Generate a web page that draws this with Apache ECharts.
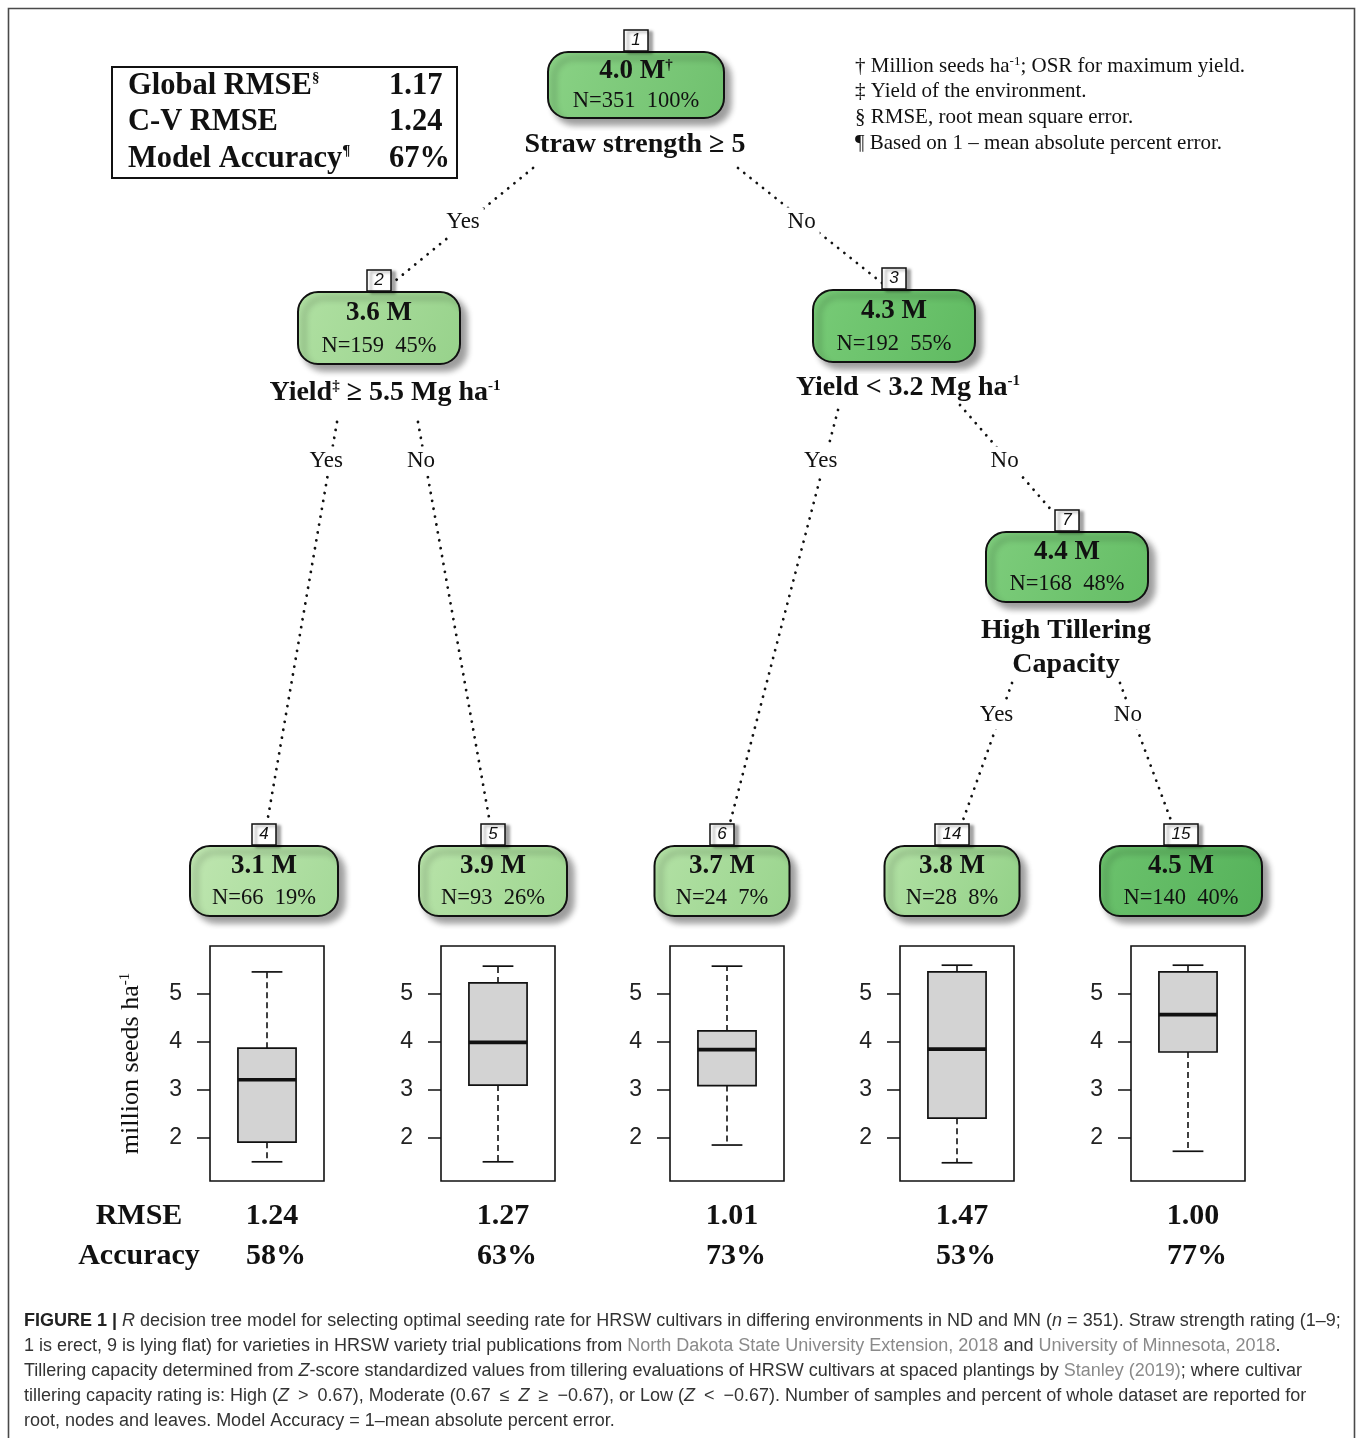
<!DOCTYPE html>
<html><head><meta charset="utf-8">
<script src="https://cdn.jsdelivr.net/npm/echarts@6/dist/echarts.min.js"></script>
<style>html,body{margin:0;padding:0;background:#fff}#c{width:1358px;height:1438px}</style>
</head><body><div id="c"></div>
<script>
// ---------------- DATA ----------------
const nodeIds   = ['1','2','3','7','4','5','6','14','15'];
const nodeMeans = ['4.0','3.6','4.3','4.4','3.1','3.9','3.7','3.8','4.5'];
const nodeN     = [351,159,192,168,66,93,24,28,140];
const nodePct   = [100,45,55,48,19,26,7,8,40];

const leafIds      = ['4','5','6','14','15'];
const whiskerLow   = [1.49,1.49,1.84,1.47,1.71];
const q1           = [1.90,3.09,3.08,2.40,3.78];
const median       = [3.20,3.98,3.83,3.84,4.56];
const q3           = [3.86,5.22,4.22,5.45,5.45];
const whiskerHigh  = [5.45,5.57,5.57,5.59,5.59];
const leafRMSE     = ['1.24','1.27','1.01','1.47','1.00'];
const leafAccuracy = ['58%','63%','73%','53%','77%'];
const yTicks       = [2,3,4,5];

const globalLabels = ['Global RMSE','C-V RMSE','Model Accuracy'];
const globalMarks  = ['§','','¶'];
const globalValues = ['1.17','1.24','67%'];

// ---------------- LAYOUT / STYLE ----------------
const SERIF = 'Liberation Serif';
const SANS = 'Liberation Sans';
const INK = '#111';
const NODE = {
  '1':  {cx:636,  top:52,  w:176, h:66},
  '2':  {cx:379,  top:292, w:162, h:72},
  '3':  {cx:894,  top:290, w:162, h:72},
  '7':  {cx:1067, top:532, w:162, h:70},
  '4':  {cx:264,  top:846, w:148, h:70},
  '5':  {cx:493,  top:846, w:148, h:70},
  '6':  {cx:722,  top:846, w:135, h:70},
  '14': {cx:952,  top:846, w:135, h:70},
  '15': {cx:1181, top:846, w:162, h:70}
};
const FILL = {
  '1':['#8ad285','#6fc06e'], '2':['#b0e0a2','#97d28b'], '3':['#78cb77','#5fba61'],
  '7':['#7ecd7c','#64bd65'], '4':['#bfe6b0','#a4d998'], '5':['#b8e3a9','#9ed690'],
  '6':['#b3e1a5','#99d48d'], '14':['#b3e1a5','#92d187'], '15':['#6cc26d','#55b25a']
};
const EDGES = [
  {from:[533,168], to:[395,281], label:'Yes', ly:222},
  {from:[738,168], to:[882,283], label:'No',  ly:222},
  {from:[337,422], to:[267,823], label:'Yes', ly:461},
  {from:[418,422], to:[490,823], label:'No',  ly:461},
  {from:[838,410], to:[730,823], label:'Yes', ly:461},
  {from:[960,405], to:[1053,512],label:'No',  ly:461},
  {from:[1012,683],to:[962,823], label:'Yes', ly:715},
  {from:[1120,683],to:[1172,823],label:'No',  ly:715}
];
const SPLITS = [
  {x:635,  y:145, text:'Straw strength ≥ 5'},
  {x:385,  y:393, text:'Yield{sup|‡} ≥ 5.5 Mg ha{sup|-1}'},
  {x:908,  y:388, text:'Yield < 3.2 Mg ha{sup|-1}'},
  {x:1066, y:631, text:'High Tillering'},
  {x:1066, y:665, text:'Capacity'}
];
const FOOTNOTES = [
  '† Million seeds ha{sup|-1}; OSR for maximum yield.',
  '‡ Yield of the environment.',
  '§ RMSE, root mean square error.',
  '¶ Based on 1 – mean absolute percent error.'
];
const CAPTION = [
  '{b|FIGURE 1 | }{i|R} decision tree model for selecting optimal seeding rate for HRSW cultivars in differing environments in ND and MN ({i|n} = 351). Straw strength rating (1–9;',
  '1 is erect, 9 is lying flat) for varieties in HRSW variety trial publications from {g|North Dakota State University Extension, 2018} and {g|University of Minnesota, 2018}.',
  'Tillering capacity determined from {i|Z}-score standardized values from tillering evaluations of HRSW cultivars at spaced plantings by {g|Stanley (2019)}; where cultivar',
  'tillering capacity rating is: High ({i|Z}\u2002>\u20020.67), Moderate (0.67\u2002≤\u2002{i|Z}\u2002≥\u2002−0.67), or Low ({i|Z}\u2002<\u2002−0.67). Number of samples and percent of whole dataset are reported for',
  'root, nodes and leaves. Model Accuracy = 1–mean absolute percent error.'
];
const GRID_LEFT = [210, 441, 670, 900, 1131];
const GRID_TOP = 946, GRID_W = 114, GRID_H = 235;

// ---------------- BUILD ----------------
function text(x, y, str, opt) {
  opt = opt || {};
  return {
    type:'text', z: opt.z || 20,
    style: Object.assign({
      x:x, y:y, text:str,
      fontFamily: opt.family || SERIF,
      fontSize: opt.size || 20,
      fontWeight: opt.weight || 'normal',
      fontStyle: opt.style || 'normal',
      fill: opt.fill || INK,
      align: opt.align || 'center', textAlign: opt.align || 'center',
      verticalAlign:'middle', textVerticalAlign:'middle'
    }, opt.extra || {})
  };
}
function supSplit(str) {
  return str.split(/(\{sup\|[^}]*\})/).map(p => p.startsWith('{sup|') ? p : (p ? '{m|' + p + '}' : '')).join('');
}

const graphics = [];
// outer frame
graphics.push({type:'rect', z:1, shape:{x:8.5, y:8.5, width:1346, height:1450},
  style:{fill:'none', stroke:'#4a4a4a', lineWidth:1.6}});

// global stats box
graphics.push({type:'rect', z:5, shape:{x:112, y:67, width:345, height:111},
  style:{fill:'#fff', stroke:INK, lineWidth:2}});
globalLabels.forEach((lab, i) => {
  const y = 86 + i * 36.5;
  const rich = {sup:{fontSize:15, fontFamily:SERIF, fontWeight:'bold', fill:INK, verticalAlign:'top'},
                m:{fontSize:30.5, fontFamily:SERIF, fontWeight:'bold', fill:INK}};
  graphics.push(text(128, y, '{m|' + lab + '}' + (globalMarks[i] ? '{sup|' + globalMarks[i] + '}' : ''),
    {size:30.5, weight:'bold', align:'left', extra:{rich:rich}}));
  graphics.push(text(389, y, globalValues[i], {size:30.5, weight:'bold', align:'left'}));
});

// footnotes
FOOTNOTES.forEach((f, i) => {
  const rich = {sup:{fontSize:13, fontFamily:SERIF, fill:INK, verticalAlign:'top'},
                m:{fontSize:21, fontFamily:SERIF, fill:INK}};
  graphics.push(text(855, 66 + i * 25.7, supSplit(f), {size:21, align:'left', extra:{rich:rich}}));
});

// edges (dotted) + Yes/No labels
EDGES.forEach(e => {
  graphics.push({type:'line', z:3, shape:{x1:e.from[0], y1:e.from[1], x2:e.to[0], y2:e.to[1]},
    style:{stroke:INK, lineWidth:2.8, lineDash:[0.01, 8], lineCap:'round'}});
  const t = (e.ly - e.from[1]) / (e.to[1] - e.from[1]);
  const lx = e.from[0] + t * (e.to[0] - e.from[0]);
  graphics.push(text(lx - 4, e.ly, e.label, {size:23, extra:{backgroundColor:'#fff', padding:[3,4]}}));
});

// split labels
SPLITS.forEach(s => {
  const rich = {sup:{fontSize:15, fontFamily:SERIF, fontWeight:'bold', fill:INK, verticalAlign:'top'},
                m:{fontSize:28, fontFamily:SERIF, fontWeight:'bold', fill:INK}};
  graphics.push(text(s.x, s.y, supSplit(s.text), {size:28, weight:'bold', extra:{rich:rich, backgroundColor:'#fff', padding:[0,2]}}));
});

// nodes
nodeIds.forEach((id, i) => {
  const n = NODE[id];
  const x = n.cx - n.w / 2;
  graphics.push({type:'rect', z:10, shape:{x:x, y:n.top, width:n.w, height:n.h, r:20},
    style:{fill:new echarts.graphic.LinearGradient(0,0,1,1,[{offset:0,color:FILL[id][0]},{offset:1,color:FILL[id][1]}]),
      stroke:INK, lineWidth:2, shadowBlur:6, shadowOffsetX:6, shadowOffsetY:6, shadowColor:'rgba(0,0,0,0.38)'}});
  // node number tag
  const tw = id.length > 1 ? 34 : 24;
  graphics.push({type:'rect', z:11, shape:{x:n.cx - tw / 2, y:n.top - 22, width:tw, height:21},
    style:{fill:'#fff', stroke:INK, lineWidth:1.5, shadowBlur:3, shadowOffsetX:4, shadowOffsetY:2, shadowColor:'rgba(0,0,0,0.35)'}});
  graphics.push(text(n.cx, n.top - 11.5, id, {family:SANS, size:17, style:'italic', z:12}));
  // value + N
  const valText = id === '1' ? '{m|' + nodeMeans[i] + ' M}{sup|†}' : '{m|' + nodeMeans[i] + ' M}';
  graphics.push(text(n.cx, n.top + n.h * 0.29, valText,
    {size:27, weight:'bold', z:12, extra:{rich:{m:{fontSize:27, fontFamily:SERIF, fontWeight:'bold', fill:INK},
      sup:{fontSize:15, fontFamily:SERIF, fontWeight:'bold', fill:INK, verticalAlign:'top'}}}}));
  graphics.push(text(n.cx, n.top + n.h * 0.75, 'N=' + nodeN[i] + '  ' + nodePct[i] + '%', {size:22.5, z:12}));
});

// leaf stats below boxplots
graphics.push(text(139, 1216, 'RMSE', {size:30, weight:'bold'}));
graphics.push(text(139, 1256, 'Accuracy', {size:30, weight:'bold'}));
leafIds.forEach((id, i) => {
  const c = GRID_LEFT[i] + GRID_W / 2;
  graphics.push(text(c + 5, 1216, leafRMSE[i], {size:30, weight:'bold'}));
  graphics.push(text(c + 9, 1256, leafAccuracy[i], {size:30, weight:'bold'}));
});

// caption
const CAPSZ = 18;
const capRich = {
  b:{fontFamily:SANS, fontSize:CAPSZ, fontWeight:'bold', fill:'#222'},
  i:{fontFamily:SANS, fontSize:CAPSZ, fontStyle:'italic', fill:'#333'},
  g:{fontFamily:SANS, fontSize:CAPSZ, fill:'#8a8a8a'}
};
CAPTION.forEach((line, i) => {
  graphics.push(text(24, 1321 + i * 25, line, {family:SANS, size:CAPSZ, align:'left', fill:'#333', extra:{rich:capRich}}));
});

// ---------------- BOXPLOTS ----------------
function renderBox(params, api) {
  const cat = api.value(0);
  const xc = api.coord([cat, api.value(3)])[0];
  const bw = api.size([1, 0])[0];
  const yLow = api.coord([cat, api.value(1)])[1];
  const yQ1 = api.coord([cat, api.value(2)])[1];
  const yMed = api.coord([cat, api.value(3)])[1];
  const yQ3 = api.coord([cat, api.value(4)])[1];
  const yHigh = api.coord([cat, api.value(5)])[1];
  const hb = bw * 0.255, hc = bw * 0.135;
  const dash = {stroke:INK, lineWidth:1.6, lineDash:[6,4]};
  const solid = {stroke:INK, lineWidth:1.7};
  return {type:'group', children:[
    {type:'line', shape:{x1:xc, y1:yQ3, x2:xc, y2:yHigh}, style:dash},
    {type:'line', shape:{x1:xc, y1:yQ1, x2:xc, y2:yLow}, style:dash},
    {type:'line', shape:{x1:xc - hc, y1:yHigh, x2:xc + hc, y2:yHigh}, style:solid},
    {type:'line', shape:{x1:xc - hc, y1:yLow, x2:xc + hc, y2:yLow}, style:solid},
    {type:'rect', shape:{x:xc - hb, y:yQ3, width:2 * hb, height:yQ1 - yQ3}, style:{fill:'#d3d3d3', stroke:INK, lineWidth:1.7}},
    {type:'line', shape:{x1:xc - hb, y1:yMed, x2:xc + hb, y2:yMed}, style:{stroke:INK, lineWidth:3.6}}
  ]};
}

const grids = [], xAxes = [], yAxes = [], series = [];
leafIds.forEach((id, i) => {
  grids.push({left:GRID_LEFT[i], top:GRID_TOP, width:GRID_W, height:GRID_H, show:true,
    borderColor:INK, borderWidth:1.6, backgroundColor:'transparent', containLabel:false});
  xAxes.push({type:'category', gridIndex:i, data:['Node ' + id], show:false, boundaryGap:true});
  const y = {type:'value', gridIndex:i, min:1.09, max:5.99,
    axisLine:{show:false}, splitLine:{show:false},
    axisTick:{show:true, length:13, inside:false, customValues:yTicks, lineStyle:{color:INK, width:1.5}},
    axisLabel:{customValues:yTicks, fontFamily:SANS, fontSize:23, color:'#222', margin:28}};
  if (i === 0) {
    Object.assign(y, {name:'{a|million seeds ha}{s|-1}', nameLocation:'middle', nameRotate:90, nameGap:66,
      nameTextStyle:{fontFamily:SERIF, fontSize:26, color:INK,
        rich:{a:{fontFamily:SERIF, fontSize:26, color:INK}, s:{fontFamily:SERIF, fontSize:15, color:INK, verticalAlign:'top'}}}});
  }
  yAxes.push(y);
  series.push({type:'custom', xAxisIndex:i, yAxisIndex:i, renderItem:renderBox,
    encode:{x:0, y:[1,2,3,4,5]},
    data:[[0, whiskerLow[i], q1[i], median[i], q3[i], whiskerHigh[i]]]});
});

const chart = echarts.init(document.getElementById('c'), null, {renderer:'canvas'});
chart.setOption({
  backgroundColor:'#fff',
  animation:false,
  grid:grids, xAxis:xAxes, yAxis:yAxes, series:series,
  graphic:{elements:graphics}
});
</script></body></html>
